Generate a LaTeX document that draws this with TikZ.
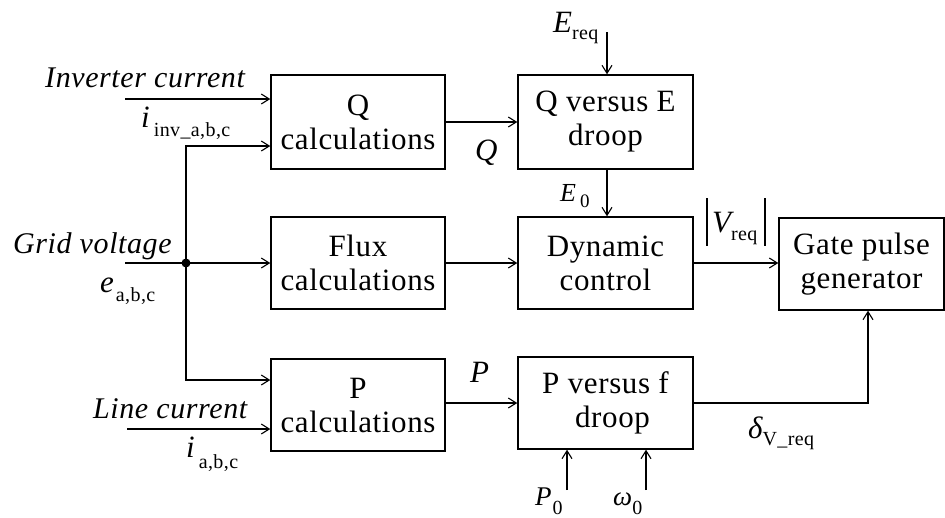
\documentclass[tikz,border=0pt]{standalone}
\usepackage{fontspec}
\setmainfont{Liberation Serif}[LetterSpace=2]
\usetikzlibrary{arrows.meta}
\newcommand\mainsz{\fontsize{31}{34}\selectfont}
\newcommand\labsz{\fontsize{30}{34}\selectfont}
\newcommand\subsz{\fontsize{20}{22}\selectfont}
\newcommand\lowsub[2][9pt]{\raisebox{-#1}{\subsz #2}}
\begin{document}
\begin{tikzpicture}[x=1pt,y=-1pt,
  blk/.style={draw, line width=1.4pt, align=center, inner sep=0pt, font=\mainsz},
  conn/.style={line width=1.4pt, -{Straight Barb[length=8pt,width=10pt,line width=1.1pt]}},
  lbl/.style={inner sep=0pt, anchor=base west, font=\mainsz},
  ilbl/.style={inner sep=0pt, anchor=base west, font=\labsz\itshape}]
\useasboundingbox[fill=white] (0,0) rectangle (945,517);

% blocks
\node[blk, minimum width=174pt, minimum height=94pt] (qc) at (358,122) {Q\\calculations};
\node[blk, minimum width=175pt, minimum height=94pt] (qe) at (605.5,122) {Q versus E\\droop};
\node[blk, minimum width=174pt, minimum height=92pt] (fc) at (358,263) {Flux\\calculations};
\node[blk, minimum width=175pt, minimum height=92pt] (dc) at (605.5,263) {Dynamic\\control};
\node[blk, minimum width=174pt, minimum height=92pt] (pc) at (358,405) {P\\calculations};
\node[blk, minimum width=175pt, minimum height=92pt] (pf) at (605.5,403) {P versus f\\\hspace*{14pt}droop};
\node[blk, minimum width=165pt, minimum height=92pt] (gp) at (861.5,264) {Gate pulse\\generator};

% labels
\node[ilbl] (tinv) at (45,87) {Inverter current};
\node[lbl] (tiinv) at (141,127) {\itshape i\hspace{4pt}\upshape\lowsub{inv\_a,b,c}};
\node[ilbl] (tgrid) at (13,253) {Grid voltage};
\node[lbl] (te) at (100,292) {\itshape e\hspace{2pt}\upshape\lowsub{a,b,c}};
\node[ilbl] (tline) at (93,418) {Line current};
\node[lbl] (tia) at (186,457) {\itshape i\hspace{4pt}\upshape\lowsub[11pt]{a,b,c}};
\node[lbl] (tQ) at (475,160) {\itshape Q};
\node[lbl] (tEreq) at (553,32) {\itshape E\upshape\lowsub[7pt]{req}};
\node[lbl, font=\fontsize{26}{26}\selectfont] (tE0) at (560,201) {\itshape E\hspace{4pt}\upshape\raisebox{-6pt}{\fontsize{19}{19}\selectfont 0}};
\node[lbl] (tP) at (470,382) {\itshape P};
\node[lbl] (tV) at (712,232) {\itshape V\upshape\lowsub[8pt]{req}};
\draw[line width=1.4pt] (707,198) -- (707,246);
\draw[line width=1.4pt] (765,198) -- (765,246);
\node[lbl] (td) at (748,438) {\itshape δ\upshape\lowsub[7pt]{V\_req}};
\node[lbl, font=\fontsize{27}{27}\selectfont] (tP0) at (535,505) {\itshape P\hspace{1pt}\upshape\lowsub[9pt]{0}};
\node[lbl, font=\fontsize{27}{27}\selectfont] (tw0) at (613,505) {\itshape ω\upshape\lowsub[9pt]{0}};

% connectors
\coordinate (inv0) at (125,99);
\draw[conn] (inv0) -- (inv0 -| qc.west);
\coordinate (gv0) at (125,263);
\coordinate (J) at (186,263);
\coordinate (Jt) at (186,146);
\coordinate (Jb) at (186,380);
\draw[conn] (gv0) -- (gv0 -| fc.west);
\draw[conn] (J) -- (Jt) -- (Jt -| qc.west);
\draw[conn] (J) -- (Jb) -- (Jb -| pc.west);
\fill (J) circle (4.5pt);
\coordinate (lc0) at (127,429);
\draw[conn] (lc0) -- (lc0 -| pc.west);
\draw[conn] (qc.east) -- (qc.east -| qe.west);
\coordinate (er0) at (607,32);
\draw[conn] (er0) -- (er0 |- qe.north);
\coordinate (e0s) at (607,168);
\draw[conn] (qe.south -| e0s) -- (e0s |- dc.north);
\draw[conn] (fc.east) -- (dc.west);
\draw[conn] (dc.east) -- (dc.east -| gp.west);
\draw[conn] (pf.west -| pc.east) -- (pf.west);
\coordinate (dl) at (868,403);
\draw[conn] (pf.east) -- (dl) -- (dl |- gp.south);
\coordinate (p00) at (567,490);
\draw[conn] (p00) -- (p00 |- pf.south);
\coordinate (w00) at (646,490);
\draw[conn] (w00) -- (w00 |- pf.south);
\end{tikzpicture}
\end{document}
